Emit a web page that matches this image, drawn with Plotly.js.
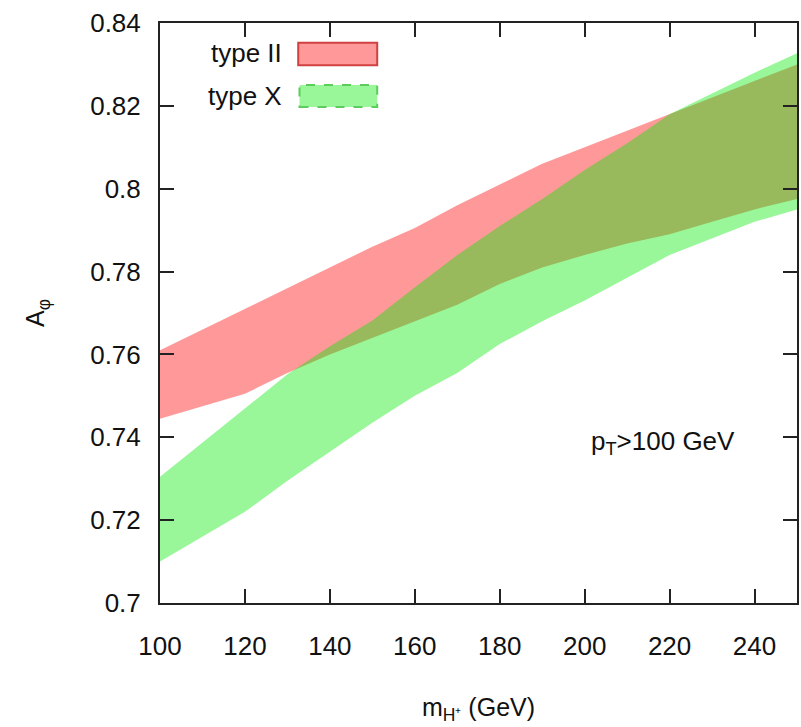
<!DOCTYPE html>
<html>
<head>
<meta charset="utf-8">
<script src="https://cdn.plot.ly/plotly-3.0.1.min.js"></script>
<style>
  html, body { margin: 0; padding: 0; background: #fff; }
  #chart { width: 801px; height: 727px; }
</style>
</head>
<body>
<div id="chart"></div>
<script>
// Charged Higgs mass grid (GeV)
const mH = [100, 110, 120, 130, 140, 150, 160, 170, 180, 190, 200, 210, 220, 230, 240, 250];

// A_phi band, type II model (lower / upper edges)
const typeIILow  = [0.7445, 0.7475, 0.7505, 0.7555, 0.7600, 0.7640, 0.7680, 0.7720, 0.7770, 0.7810, 0.7840, 0.7868, 0.7890, 0.7920, 0.7950, 0.7975];
const typeIIHigh = [0.7610, 0.7660, 0.7710, 0.7760, 0.7810, 0.7860, 0.7905, 0.7960, 0.8010, 0.8060, 0.8100, 0.8140, 0.8180, 0.8220, 0.8260, 0.8300];

// A_phi band, type X model (lower / upper edges)
const typeXLow  = [0.7100, 0.7160, 0.7220, 0.7295, 0.7365, 0.7435, 0.7500, 0.7555, 0.7625, 0.7680, 0.7730, 0.7785, 0.7840, 0.7880, 0.7920, 0.7950];
const typeXHigh = [0.7305, 0.7388, 0.7470, 0.7552, 0.7620, 0.7682, 0.7762, 0.7840, 0.7910, 0.7975, 0.8045, 0.8110, 0.8180, 0.8230, 0.8280, 0.8327];

// Axis ticks
const xTicks = [100, 120, 140, 160, 180, 200, 220, 240];
const yTicks = [0.7, 0.72, 0.74, 0.76, 0.78, 0.8, 0.82, 0.84];
const yTickText = ['0.7', '0.72', '0.74', '0.76', '0.78', '0.8', '0.82', '0.84'];

// Closed polygon for a band: upper edge left->right, lower edge right->left
function band(xs, lo, hi) {
  return {
    x: xs.concat(xs.slice().reverse()),
    y: hi.concat(lo.slice().reverse())
  };
}

const bII = band(mH, typeIILow, typeIIHigh);
const bX = band(mH, typeXLow, typeXHigh);

const traces = [
  {
    x: bII.x, y: bII.y, type: 'scatter', mode: 'lines',
    fill: 'toself', fillcolor: 'rgba(255,0,0,0.40)',
    line: { width: 0 }, hoverinfo: 'skip', showlegend: false, name: 'type II'
  },
  {
    x: bX.x, y: bX.y, type: 'scatter', mode: 'lines',
    fill: 'toself', fillcolor: 'rgba(0,235,0,0.40)',
    line: { width: 0 }, hoverinfo: 'skip', showlegend: false, name: 'type X'
  }
];

const font = { family: 'Liberation Sans, Arial, sans-serif', color: '#111' };
const sized = (s) => Object.assign({ size: s }, font);

const layout = {
  width: 801, height: 727,
  margin: { l: 160, r: 4, t: 23, b: 124 },
  paper_bgcolor: '#fff', plot_bgcolor: '#fff',
  showlegend: false,
  font: sized(26),
  xaxis: {
    range: [100, 250], tickvals: xTicks,
    ticks: 'inside', ticklen: 14, tickwidth: 2, tickcolor: '#222',
    showline: true, linewidth: 2, linecolor: '#222', mirror: 'ticks',
    showgrid: false, zeroline: false,
    ticklabelstandoff: 19,
    tickfont: sized(26),
    title: { text: 'm<sub>H⁺</sub> (GeV)', font: sized(25), standoff: 38 }
  },
  yaxis: {
    range: [0.7, 0.84], tickvals: yTicks, ticktext: yTickText,
    ticks: 'inside', ticklen: 14, tickwidth: 2, tickcolor: '#222',
    showline: true, linewidth: 2, linecolor: '#222', mirror: 'ticks',
    showgrid: false, zeroline: false,
    ticklabelstandoff: 12,
    tickfont: sized(26),
    title: { text: 'A<sub>φ</sub>', font: sized(25), standoff: 38 }
  },
  shapes: [
    // legend swatches
    { type: 'rect', xref: 'paper', yref: 'paper',
      x0: 0.217, x1: 0.341, y0: 0.927, y1: 0.966,
      fillcolor: 'rgba(255,0,0,0.40)', line: { color: '#d04040', width: 2 } },
    { type: 'rect', xref: 'paper', yref: 'paper',
      x0: 0.219, x1: 0.341, y0: 0.855, y1: 0.893,
      fillcolor: 'rgba(0,235,0,0.40)', line: { color: '#5ccc5c', width: 2, dash: 'dash' } }
  ],
  annotations: [
    { xref: 'paper', yref: 'paper', x: 0.194, y: 0.948, xanchor: 'right', yanchor: 'middle',
      text: 'type II', showarrow: false, font: sized(26) },
    { xref: 'paper', yref: 'paper', x: 0.194, y: 0.874, xanchor: 'right', yanchor: 'middle',
      text: 'type X', showarrow: false, font: sized(26) },
    { xref: 'paper', yref: 'paper', x: 0.789, y: 0.277, xanchor: 'center', yanchor: 'middle',
      text: 'p<sub>T</sub>>100 GeV', showarrow: false, font: sized(26) }
  ]
};

Plotly.newPlot('chart', traces, layout, { staticPlot: true, displayModeBar: false });
</script>
</body>
</html>
